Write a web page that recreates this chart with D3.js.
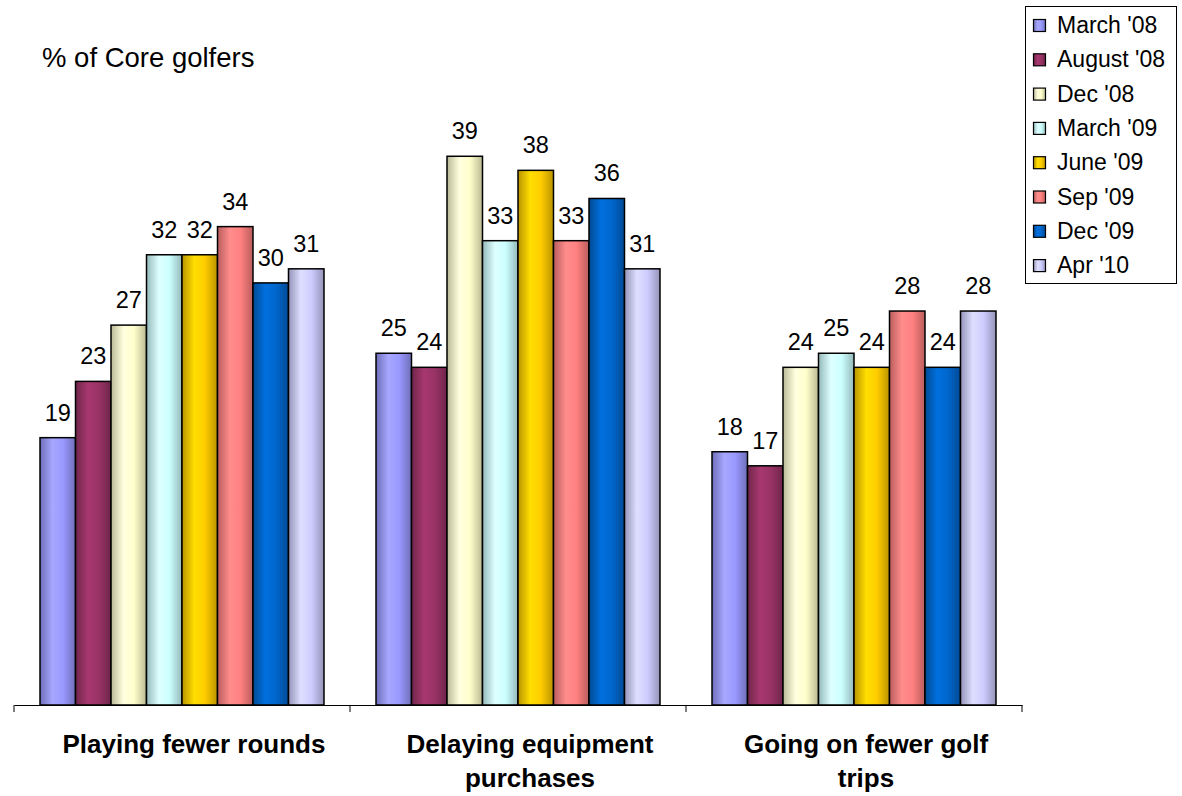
<!DOCTYPE html>
<html>
<head>
<meta charset="utf-8">
<script src="https://cdn.jsdelivr.net/npm/d3@7/dist/d3.min.js"></script>
<style>
html,body{margin:0;padding:0;background:#fff;}
svg{display:block;font-family:Arial,"Liberation Sans",sans-serif;}
</style>
</head>
<body>
<div id="chart"></div>
<script>
const categories = ["Playing fewer rounds", "Delaying equipment purchases", "Going on fewer golf trips"];
const categoryLines = [["Playing fewer rounds"], ["Delaying equipment", "purchases"], ["Going on fewer golf", "trips"]];
const seriesNames = ["March '08", "August '08", "Dec '08", "March '09", "June '09", "Sep '09", "Dec '09", "Apr '10"];
const march08 = [19, 25, 18];
const august08 = [23, 24, 17];
const dec08 = [27, 39, 24];
const march09 = [32, 33, 25];
const june09 = [32, 38, 24];
const sep09 = [34, 33, 28];
const dec09 = [30, 36, 24];
const apr10 = [31, 31, 28];
const seriesValues = [march08, august08, dec08, march09, june09, sep09, dec09, apr10];
const colors = ["#9999FF", "#993366", "#FFFFCC", "#CCFFFF", "#FFCC00", "#FF8080", "#0066CC", "#CCCCFF"];
const yTicks = [0, 50];
const title = "% of Core golfers";

const W = 1182, H = 796;
const svg = d3.select("#chart").append("svg").attr("width", W).attr("height", H);
const defs = svg.append("defs");

colors.forEach((c, i) => {
  const base = d3.color(c);
  const g = defs.append("linearGradient").attr("id", "g" + i)
    .attr("x1", "0%").attr("x2", "100%").attr("y1", "0%").attr("y2", "0%");
  g.append("stop").attr("offset", "0%").attr("stop-color", d3.rgb(base).darker(0.9));
  g.append("stop").attr("offset", "35%").attr("stop-color", d3.rgb(base).brighter(0.25));
  g.append("stop").attr("offset", "65%").attr("stop-color", base);
  g.append("stop").attr("offset", "100%").attr("stop-color", d3.rgb(base).darker(0.9));
});

const x0 = d3.scaleBand().domain(categories).range([14, 1022]).paddingInner(0).paddingOuter(0);
const bw = x0.bandwidth();
const x1 = d3.scaleBand().domain(seriesNames).range([bw * 0.0774, bw * 0.9226]).padding(0);
const y = d3.scaleLinear().domain(d3.extent(yTicks)).range([705, 1.5]);

// bars
const groups = svg.append("g").selectAll("g").data(categories).join("g")
  .attr("transform", d => `translate(${x0(d)},0)`);

groups.each(function(cat, ci) {
  const g = d3.select(this);
  const data = seriesNames.map((s, si) => ({s, si, v: seriesValues[si][ci]}));
  g.selectAll("rect").data(data).join("rect")
    .attr("x", d => x1(d.s))
    .attr("y", d => y(d.v))
    .attr("width", x1.bandwidth())
    .attr("height", d => y(0) - y(d.v))
    .attr("fill", d => `url(#g${d.si})`)
    .attr("stroke", "#000")
    .attr("stroke-width", 1.5);
  g.selectAll("text.val").data(data).join("text").attr("class", "val")
    .attr("x", d => x1(d.s) + x1.bandwidth() / 2)
    .attr("y", d => y(d.v) - 17)
    .attr("text-anchor", "middle")
    .attr("font-size", 23.5)
    .attr("fill", "#000")
    .text(d => d.v);
});

// x axis
const axis = d3.axisBottom(x0).tickSize(0).tickFormat("");
const ax = svg.append("g").attr("transform", `translate(0,${y(0)})`).call(axis);
ax.select(".domain").attr("stroke", "#000").attr("stroke-width", 1);
const tickPos = categories.map(c => x0(c)).concat([x0(categories[categories.length - 1]) + bw]);
svg.append("g").selectAll("line").data(tickPos).join("line")
  .attr("x1", d => d).attr("x2", d => d)
  .attr("y1", y(0)).attr("y2", y(0) + 7)
  .attr("stroke", "#000").attr("stroke-width", 1);

// category labels
categories.forEach((c, ci) => {
  const cx = x0(c) + bw / 2 + 12;
  const t = svg.append("text")
    .attr("x", cx)
    .attr("y", 753)
    .attr("text-anchor", "middle")
    .attr("font-size", 26)
    .attr("font-weight", "bold")
    .attr("fill", "#000");
  categoryLines[ci].forEach((line, li) => {
    t.append("tspan").attr("x", cx).attr("dy", li === 0 ? 0 : 34).text(line);
  });
});

// title
svg.append("text").attr("x", 42).attr("y", 67).attr("font-size", 27.5).attr("fill", "#000").text(title);

// legend
const lg = svg.append("g");
lg.append("rect").attr("x", 1025.5).attr("y", 6.5).attr("width", 151).attr("height", 277)
  .attr("fill", "#fff").attr("stroke", "#000").attr("stroke-width", 1);
seriesNames.forEach((s, i) => {
  const yy = 33 + i * 34.3;
  lg.append("rect").attr("x", 1033.5).attr("y", yy - 13.5).attr("width", 12).attr("height", 12)
    .attr("fill", `url(#g${i})`).attr("stroke", "#000").attr("stroke-width", 1.2);
  lg.append("text").attr("x", 1057).attr("y", yy).attr("font-size", 23).attr("fill", "#000").text(s);
});
</script>
</body>
</html>
